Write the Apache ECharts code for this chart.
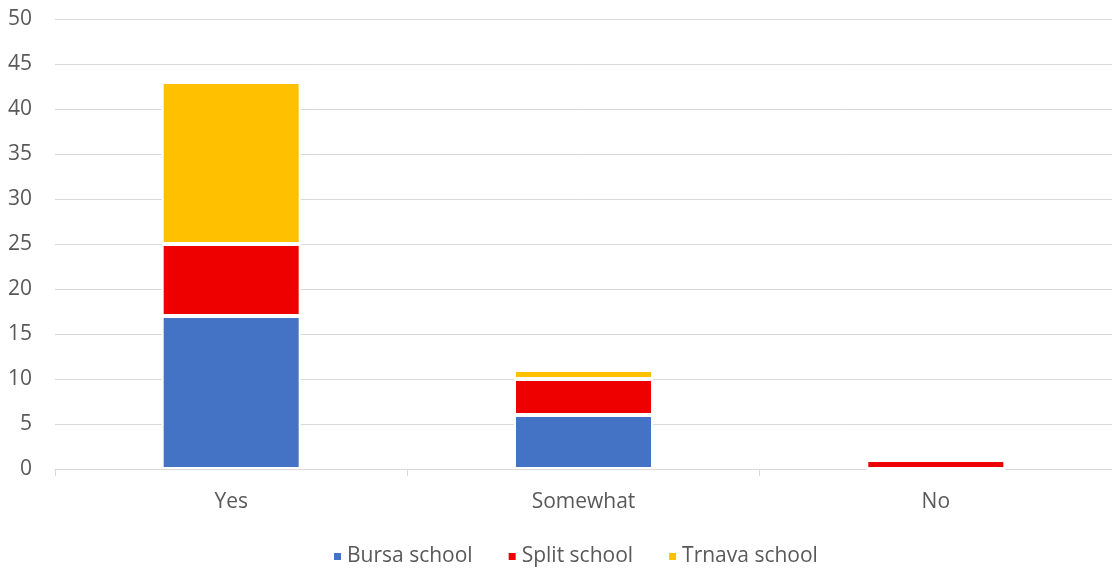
<!DOCTYPE html>
<html>
<head>
<meta charset="utf-8">
<script src="https://cdn.jsdelivr.net/npm/echarts@6/dist/echarts.min.js"></script>
<style>
  html, body { margin: 0; padding: 0; background: #fff; }
  #chart { width: 1112px; height: 573px; }
</style>
</head>
<body>
<div id="chart"></div>
<script>
// Answer categories
const categories = ['Yes', 'Somewhat', 'No'];

// Responses per school
const bursaSchool = [17, 6, 0];
const splitSchool = [8, 4, 1];
const trnavaSchool = [18, 1, 0];

const seriesNames = ['Bursa school', 'Split school', 'Trnava school'];
const seriesColors = ['#4472C4', '#EE0000', '#FFC000'];
const seriesData = [bursaSchool, splitSchool, trnavaSchool];

const textColor = '#595959';
const fontFamily = '"Open Sans", sans-serif';
const fontSize = 21;

const chart = echarts.init(document.getElementById('chart'), null, { renderer: 'canvas' });

chart.setOption({
  animation: false,
  textStyle: { fontFamily: fontFamily },
  grid: { left: 55, top: 19, width: 1060, bottom: 104, containLabel: false },
  legend: {
    top: 546,
    left: 332,
    padding: 0,
    icon: 'rect',
    itemWidth: 9,
    itemHeight: 9,
    itemGap: 34,
    itemTextGap: 7,
    textStyle: { color: textColor, fontSize: fontSize, fontFamily: fontFamily },
    data: seriesNames
  },
  xAxis: {
    type: 'category',
    data: categories,
    axisLine: { show: true, lineStyle: { color: '#D9D9D9', width: 1 } },
    axisTick: { show: true, length: 7, lineStyle: { color: '#D9D9D9' } },
    axisLabel: { color: textColor, fontSize: fontSize, margin: 23, fontFamily: fontFamily }
  },
  yAxis: {
    type: 'value',
    min: 0,
    max: 50,
    interval: 5,
    axisLine: { show: false },
    axisTick: { show: false },
    splitLine: { lineStyle: { color: '#D9D9D9', width: 1 } },
    axisLabel: { color: textColor, fontSize: fontSize, margin: 23, fontFamily: fontFamily }
  },
  series: seriesData.map((data, i) => ({
    name: seriesNames[i],
    type: 'bar',
    stack: 'total',
    data: data,
    barWidth: 139,
    itemStyle: { color: seriesColors[i], borderColor: '#ffffff', borderWidth: 2 }
  }))
});
</script>
</body>
</html>
